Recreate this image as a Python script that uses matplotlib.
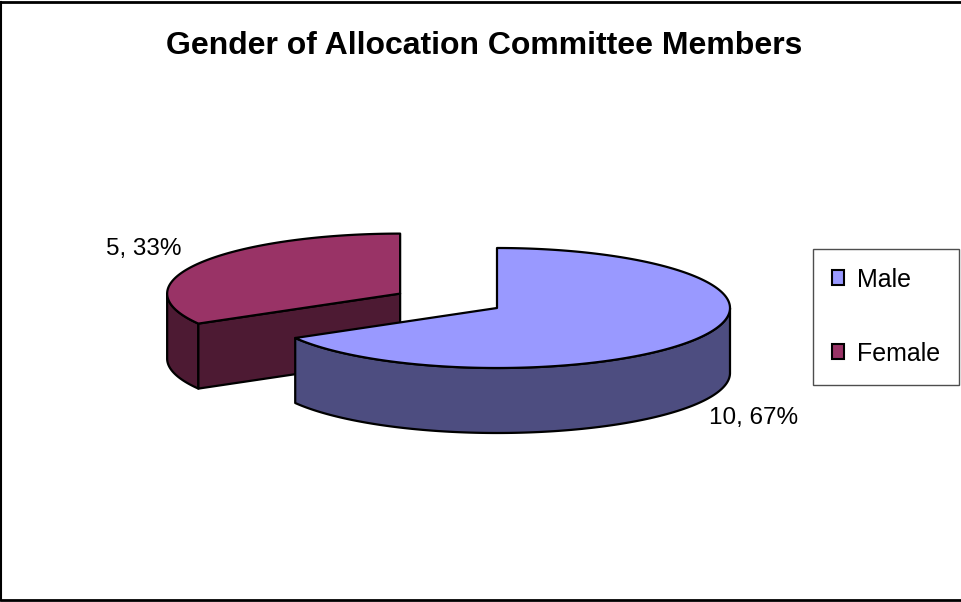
import numpy as np
import matplotlib.pyplot as plt
from matplotlib.patches import Polygon, Patch

plt.rcParams['font.family'] = ['Liberation Sans', 'DejaVu Sans']

title = 'Gender of Allocation Committee Members'
labels = ['Male', 'Female']
counts = [10, 5]
explode = [0.0, 0.48]
top_colors = ['#9999FF', '#993366']
side_colors = ['#4D4D80', '#4D1A33']

# pie geometry in pixel units (y axis points down)
cx, cy = 497, 308
rx, ry = 233, 60
depth = 65


def pt(x0, y0, t, z=0.0):
    t = np.radians(t)
    return np.column_stack([x0 + rx * np.cos(t), y0 - ry * np.sin(t) + z])


fig = plt.figure(figsize=(9.62, 6.02), dpi=100)
ax = fig.add_axes([0, 0, 1, 1])
ax.set_xlim(0, 962)
ax.set_ylim(602, 0)
ax.axis('off')

total = float(sum(counts))
start = 90.0
slices = []
for i, c in enumerate(counts):
    span = 360.0 * c / total
    a_hi = start
    a_lo = start - span
    start = a_lo
    mid = np.radians((a_lo + a_hi) / 2)
    x0 = cx + explode[i] * rx * np.cos(mid)
    y0 = cy - explode[i] * ry * np.sin(mid)
    slices.append((i, a_lo, a_hi, x0, y0))

# the exploded (back) slice first, the front slice over it
for i, a_lo, a_hi, x0, y0 in sorted(slices, key=lambda s: explode[s[0]], reverse=True):
    kw = dict(edgecolor='black', linewidth=1.6, joinstyle='round')
    # outer wall, only where it faces the viewer
    t = np.linspace(a_lo, a_hi, 400)
    vis = t[np.sin(np.radians(t)) <= 0]
    if len(vis) > 1:
        wall = np.vstack([pt(x0, y0, vis), pt(x0, y0, vis[::-1], depth)])
        ax.add_patch(Polygon(wall, closed=True, facecolor=side_colors[i], **kw))
    # cut faces
    for a, n in [(a_lo, a_lo - 90), (a_hi, a_hi + 90)]:
        if np.sin(np.radians(n)) < -1e-6:
            e0 = pt(x0, y0, [a])[0]
            e1 = pt(x0, y0, [a], depth)[0]
            face = np.array([[x0, y0], e0, e1, [x0, y0 + depth]])
            ax.add_patch(Polygon(face, closed=True, facecolor=side_colors[i], **kw))
    # top face
    top = np.vstack([[x0, y0], pt(x0, y0, t)])
    ax.add_patch(Polygon(top, closed=True, facecolor=top_colors[i], **kw))

    # data label: value, percent
    mid = np.radians((a_lo + a_hi) / 2)
    lx = x0 + 1.27 * rx * np.cos(mid)
    ly = y0 - 1.5 * ry * np.sin(mid) + (depth if np.sin(mid) < 0 else 0)
    ax.text(lx, ly, f'{counts[i]}, {round(100 * counts[i] / total)}%',
            fontsize=17.5, ha='center', va='center')

ax.text(484, 46, title, fontsize=23, fontweight='bold', ha='center', va='center')

handles = [Patch(facecolor=top_colors[k], edgecolor='black', linewidth=1.5) for k in range(len(labels))]
leg = ax.legend(handles, labels, loc='upper left', bbox_to_anchor=(813 / 962, 1 - 249 / 602),
                frameon=True, fancybox=False, fontsize=18, labelspacing=2.0,
                handlelength=0.5, handleheight=0.55, handletextpad=0.5,
                borderpad=0.75, borderaxespad=0)
leg.get_frame().set_edgecolor('#222222')
leg.get_frame().set_linewidth(1.0)

# chart border (left, top, bottom)
ax.plot([1.5, 1.5], [1.5, 599.5], color='black', lw=1.5, clip_on=False)
ax.plot([1.5, 962], [1.5, 1.5], color='black', lw=2, clip_on=False)
ax.plot([1.5, 962], [599.5, 599.5], color='black', lw=2, clip_on=False)

fig.savefig('out.png', dpi=100)
